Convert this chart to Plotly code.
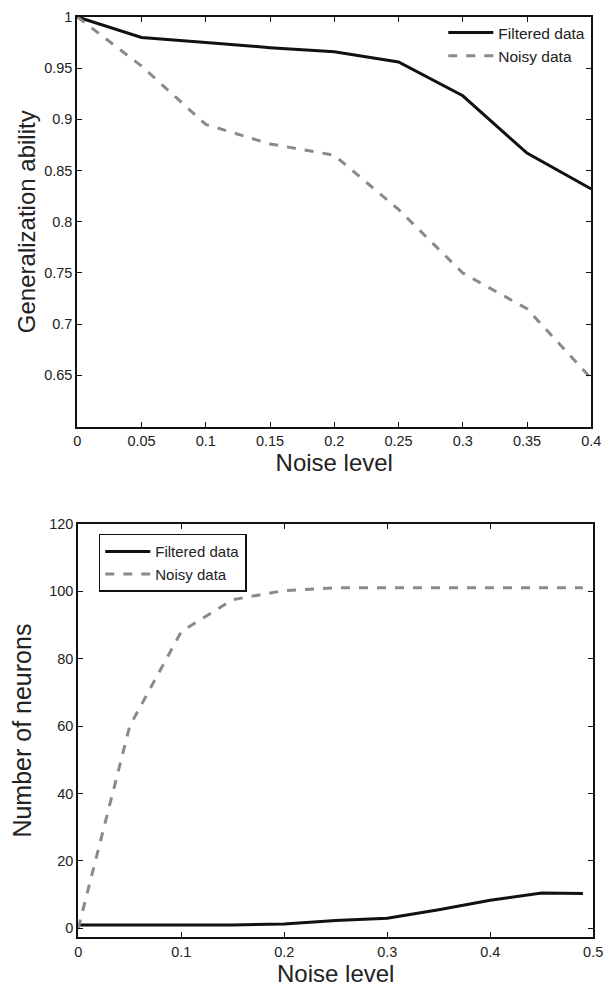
import plotly.graph_objects as go

# Top chart: generalization ability vs noise level
noise_top = [0, 0.05, 0.1, 0.15, 0.2, 0.25, 0.3, 0.35, 0.4]
gen_filtered = [1.0, 0.980, 0.975, 0.970, 0.966, 0.956, 0.923, 0.867, 0.832]
gen_noisy = [1.0, 0.952, 0.895, 0.876, 0.865, 0.812, 0.750, 0.715, 0.647]
top_xticks = [0, 0.05, 0.1, 0.15, 0.2, 0.25, 0.3, 0.35, 0.4]
top_yticks = [0.65, 0.7, 0.75, 0.8, 0.85, 0.9, 0.95, 1]

# Bottom chart: number of neurons vs noise level
noise_bot = [0, 0.05, 0.1, 0.15, 0.2, 0.25, 0.3, 0.35, 0.4, 0.45, 0.49]
neur_filtered = [1, 1, 1, 1, 1.3, 2.3, 3, 5.5, 8.3, 10.5, 10.3]
neur_noisy = [0, 60, 88, 97.5, 100.2, 101, 101, 101, 101, 101, 101]
bot_xticks = [0, 0.1, 0.2, 0.3, 0.4, 0.5]
bot_yticks = [0, 20, 40, 60, 80, 100, 120]

FONT = "Liberation Sans, Arial, sans-serif"
BLACK = "#111111"
GRAY = "#8a8a8a"
TXT = "#222222"

fig = go.Figure()
fig.add_trace(go.Scatter(x=noise_top, y=gen_filtered, mode="lines", name="Filtered data",
                         line=dict(color=BLACK, width=3), xaxis="x", yaxis="y", legend="legend"))
fig.add_trace(go.Scatter(x=noise_top, y=gen_noisy, mode="lines", name="Noisy data",
                         line=dict(color=GRAY, width=3, dash="dash"), xaxis="x", yaxis="y", legend="legend"))
fig.add_trace(go.Scatter(x=noise_bot, y=neur_filtered, mode="lines", name="Filtered data",
                         line=dict(color=BLACK, width=3), xaxis="x2", yaxis="y2", legend="legend2"))
fig.add_trace(go.Scatter(x=noise_bot, y=neur_noisy, mode="lines", name="Noisy data",
                         line=dict(color=GRAY, width=3, dash="dash"), xaxis="x2", yaxis="y2", legend="legend2"))

W, H = 612, 988
def px(x):
    return x / W
def py(y):
    return 1 - y / H
def xd(a, b):
    return [px(a), px(b)]
def yd(top, bottom):
    return [py(bottom), py(top)]

axis_common = dict(showgrid=False, zeroline=False, showline=True, linecolor=BLACK, linewidth=2,
                   mirror="ticks", ticks="inside", ticklen=5, tickcolor=BLACK, tickwidth=1,
                   tickfont=dict(family=FONT, size=14.5, color=TXT))

fig.update_layout(
    width=W, height=H,
    margin=dict(l=0, r=0, t=0, b=0),
    paper_bgcolor="white", plot_bgcolor="white",
    font=dict(family=FONT, color=TXT),
    xaxis=dict(domain=xd(75, 601), range=[0, 0.4], tickvals=top_xticks,
               ticktext=[f"{v:g}" for v in top_xticks], anchor="y",
               title=dict(text="Noise level", font=dict(size=24), standoff=2), **axis_common),
    yaxis=dict(domain=yd(9, 422), range=[0.6, 1], tickvals=top_yticks,
               ticktext=[f"{v:g}" for v in top_yticks], anchor="x",
               title=dict(text="Generalization ability", font=dict(size=24), standoff=2), **axis_common),
    xaxis2=dict(domain=xd(76, 603), range=[0, 0.5], tickvals=bot_xticks,
                ticktext=[f"{v:g}" for v in bot_xticks], anchor="y2",
                title=dict(text="Noise level", font=dict(size=24), standoff=2), **axis_common),
    yaxis2=dict(domain=yd(520, 937), range=[-2.7, 120], tickvals=bot_yticks,
                ticktext=[str(v) for v in bot_yticks], anchor="x2",
                title=dict(text="Number of neurons", font=dict(size=25), standoff=10), **axis_common),
    legend=dict(x=px(600), y=py(8), xanchor="right", yanchor="top",
                bgcolor="rgba(0,0,0,0)", borderwidth=0, itemwidth=45,
                font=dict(family=FONT, size=15.5, color=TXT), tracegroupgap=0),
    legend2=dict(x=px(97), y=py(530), xanchor="left", yanchor="top",
                 bgcolor="white", bordercolor=BLACK, borderwidth=1.5, itemwidth=45,
                 font=dict(family=FONT, size=15, color=TXT), tracegroupgap=0),
    showlegend=True,
)

fig.write_html("out.html", config={"displayModeBar": False},
               post_script="document.body.style.margin='0';document.body.style.padding='0';"
                           "document.documentElement.style.overflow='hidden';")
